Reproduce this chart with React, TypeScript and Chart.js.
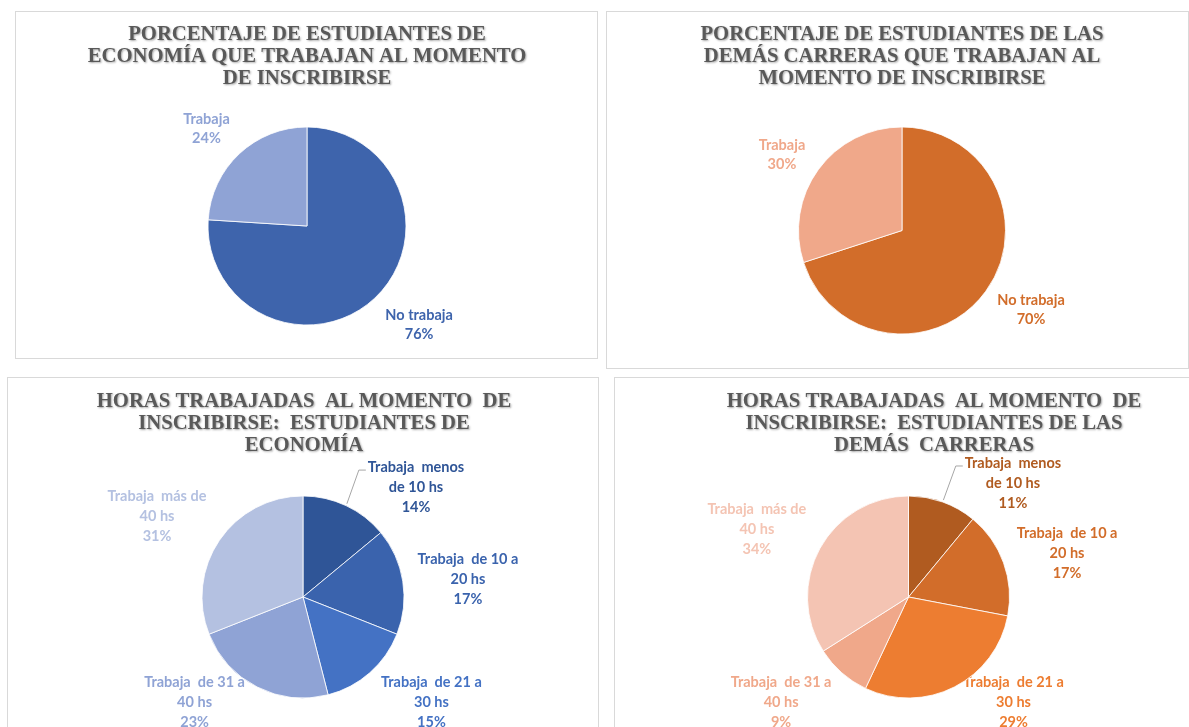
import React, { useEffect, useRef } from 'react';
import { Chart, registerables } from 'chart.js';

Chart.register(...registerables);

// ---------- DATA ----------
const STATUS_LABELS = ['No trabaja', 'Trabaja'];
const ECON_STATUS_VALUES = [76, 24];
const OTHER_STATUS_VALUES = [70, 30];

const HOURS_LABELS = [
  'Trabaja  menos\nde 10 hs',
  'Trabaja  de 10 a\n20 hs',
  'Trabaja  de 21 a\n30 hs',
  'Trabaja  de 31 a\n40 hs',
  'Trabaja  más de\n40 hs',
];
const ECON_HOURS_VALUES = [14, 17, 15, 23, 31];
const OTHER_HOURS_VALUES = [11, 17, 29, 9, 34];

const TITLE_ECON_STATUS = [
  'PORCENTAJE DE ESTUDIANTES DE',
  'ECONOMÍA QUE TRABAJAN AL MOMENTO',
  'DE INSCRIBIRSE',
];
const TITLE_OTHER_STATUS = [
  'PORCENTAJE DE ESTUDIANTES DE LAS',
  'DEMÁS CARRERAS QUE TRABAJAN AL',
  'MOMENTO DE INSCRIBIRSE',
];
const TITLE_ECON_HOURS = [
  'HORAS TRABAJADAS  AL MOMENTO  DE',
  'INSCRIBIRSE:  ESTUDIANTES DE',
  'ECONOMÍA',
];
const TITLE_OTHER_HOURS = [
  'HORAS TRABAJADAS  AL MOMENTO  DE',
  'INSCRIBIRSE:  ESTUDIANTES DE LAS',
  'DEMÁS  CARRERAS',
];

// ---------- STYLE / LAYOUT ----------
const BLUES_2 = ['#3e64ac', '#8fa3d5'];
const ORANGES_2 = ['#d26d2a', '#f0a88a'];
const BLUES_5 = ['#2f5597', '#3a63ad', '#4472c4', '#8fa3d5', '#b4c1e1'];
const ORANGES_5 = ['#b05b20', '#d26d2a', '#ed7d31', '#f0a88a', '#f4c4b3'];

type Panel = {
  box: { x: number; y: number; w: number; h: number };
  cx: number; cy: number; r: number;
  titleX: number; titleY: number; title: string[];
  labels: string[]; values: number[]; colors: string[];
  labelPos: [number, number][]; // [angle deg clockwise from top, distance factor of radius]
  leaders: number[];
  lineH: number;
};

const PANELS: Panel[] = [
  {
    box: { x: 15, y: 11, w: 583, h: 348 },
    cx: 307, cy: 226, r: 99,
    titleX: 307, titleY: 35, title: TITLE_ECON_STATUS,
    labels: STATUS_LABELS, values: ECON_STATUS_VALUES, colors: BLUES_2,
    labelPos: [[131.3, 1.507], [314.1, 1.414]],
    leaders: [], lineH: 19,
  },
  {
    box: { x: 606, y: 11, w: 583, h: 358 },
    cx: 902, cy: 230.5, r: 103.5,
    titleX: 902, titleY: 35, title: TITLE_OTHER_STATUS,
    labels: STATUS_LABELS, values: OTHER_STATUS_VALUES, colors: ORANGES_2,
    labelPos: [[121.5, 1.462], [302.3, 1.372]],
    leaders: [], lineH: 19,
  },
  {
    box: { x: 7, y: 377, w: 592, h: 400 },
    cx: 303, cy: 597, r: 101,
    titleX: 304, titleY: 401.7, title: TITLE_ECON_HOURS,
    labels: HOURS_LABELS, values: ECON_HOURS_VALUES, colors: BLUES_5,
    labelPos: [[45.8, 1.561], [83.8, 1.643], [129.3, 1.643], [225.9, 1.495], [299, 1.653]],
    leaders: [0], lineH: 20,
  },
  {
    box: { x: 614, y: 377, w: 600, h: 400 },
    cx: 908.5, cy: 597, r: 101,
    titleX: 934, titleY: 401.7, title: TITLE_OTHER_HOURS,
    labels: HOURS_LABELS, values: OTHER_HOURS_VALUES, colors: ORANGES_5,
    labelPos: [[42.5, 1.531], [74.5, 1.629], [135, 1.47], [230.5, 1.635], [294.2, 1.646]],
    leaders: [0], lineH: 20,
  },
];

const TITLE_FONT = 'bold 20.7px "Liberation Serif", "Times New Roman", serif';
const LABEL_FONT = 'bold 14.5px Lato, "Noto Sans", sans-serif';

function makeDecor(p: Panel) {
  const ox = p.box.x + 1;
  const oy = p.box.y + 1;
  return {
    id: 'pieDecor',
    beforeDatasetsDraw(chart: any) {
      const ctx: CanvasRenderingContext2D = chart.ctx;
      const meta = chart.getDatasetMeta(0);
      const values = chart.data.datasets[0].data as number[];
      ctx.save();
      ctx.font = LABEL_FONT;
      ctx.textAlign = 'center';
      ctx.textBaseline = 'middle';
      meta.data.forEach((arc: any, i: number) => {
        const { x, y, outerRadius, startAngle, endAngle } = arc.getProps(
          ['x', 'y', 'outerRadius', 'startAngle', 'endAngle'], true);
        const [angDeg, f] = p.labelPos[i];
        const th = ((angDeg - 90) * Math.PI) / 180;
        const lx = x + Math.cos(th) * outerRadius * f;
        const ly = y + Math.sin(th) * outerRadius * f;
        const lines = [...String(chart.data.labels[i]).split('\n'), `${values[i]}%`];
        const firstY = ly - ((lines.length - 1) / 2) * p.lineH;
        if (p.leaders.includes(i)) {
          const mid = (startAngle + endAngle) / 2;
          const sx = x + Math.cos(mid) * outerRadius * 1.02;
          const sy = y + Math.sin(mid) * outerRadius * 1.02;
          const left = lx - ctx.measureText(lines[0]).width / 2;
          ctx.strokeStyle = '#a6a6a6';
          ctx.lineWidth = 1;
          ctx.beginPath();
          ctx.moveTo(sx, sy);
          ctx.lineTo(left - 9, firstY + 3);
          ctx.lineTo(left - 2, firstY + 3);
          ctx.stroke();
        }
        ctx.fillStyle = p.colors[i];
        lines.forEach((t, k) => ctx.fillText(t, lx, firstY + k * p.lineH));
      });
      ctx.restore();
    },
    afterDraw(chart: any) {
      const ctx: CanvasRenderingContext2D = chart.ctx;
      ctx.save();
      ctx.font = TITLE_FONT;
      ctx.textAlign = 'center';
      ctx.textBaseline = 'middle';
      ctx.fillStyle = '#595959';
      ctx.shadowColor = 'rgba(0,0,0,0.35)';
      ctx.shadowBlur = 2;
      ctx.shadowOffsetX = 1;
      ctx.shadowOffsetY = 1;
      p.title.forEach((t, k) => ctx.fillText(t, p.titleX - ox, p.titleY - oy + k * 22));
      ctx.restore();
    },
  };
}

function PiePanel({ p }: { p: Panel }) {
  const ref = useRef<HTMLCanvasElement>(null);
  const W = p.box.w - 2;
  const H = p.box.h - 2;
  useEffect(() => {
    const canvas = ref.current!;
    const cxL = p.cx - (p.box.x + 1);
    const cyL = p.cy - (p.box.y + 1);
    const padding = {
      top: cyL - p.r - 2,
      left: cxL - p.r - 2,
      right: W - cxL - p.r - 2,
      bottom: H - cyL - p.r - 2,
    };
    const chart = new Chart(canvas, {
      type: 'pie',
      data: {
        labels: p.labels,
        datasets: [{
          data: p.values,
          backgroundColor: p.colors,
          borderColor: 'rgba(255,255,255,0.8)',
          borderWidth: 1,
          radius: p.r,
        } as any],
      },
      options: {
        responsive: false,
        animation: false,
        events: [],
        radius: p.r,
        layout: { padding },
        plugins: {
          legend: { display: false },
          tooltip: { enabled: false },
          title: { display: false },
        },
      } as any,
      plugins: [makeDecor(p)],
    });
    return () => chart.destroy();
  }, []);
  return (
    <div style={{
      position: 'absolute', left: p.box.x, top: p.box.y,
      width: W, height: H, border: '1px solid #d9d9d9', background: '#fff',
    }}>
      <canvas ref={ref} width={W} height={H} style={{ display: 'block', width: W, height: H }} />
    </div>
  );
}

export default function App() {
  return (
    <div style={{
      position: 'absolute', left: 0, top: 0, width: 1189, height: 727,
      overflow: 'hidden', background: '#ffffff',
    }}>
      {PANELS.map((p, i) => <PiePanel key={i} p={p} />)}
    </div>
  );
}
